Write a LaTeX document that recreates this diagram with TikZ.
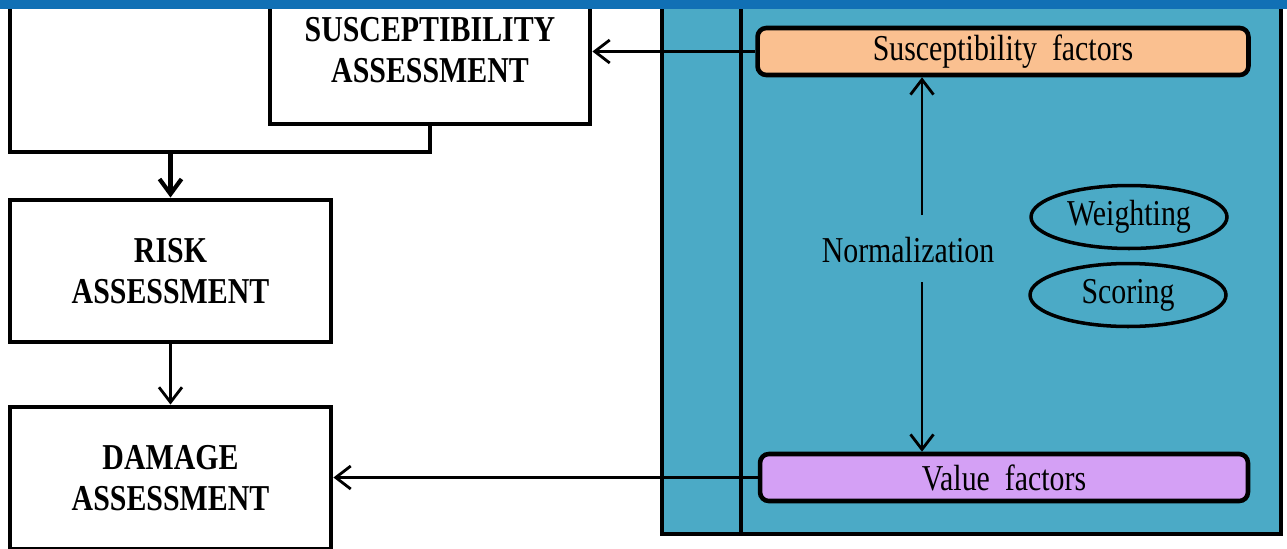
\documentclass[tikz,border=0pt]{standalone}
\usepackage{fontspec}
\setmainfont{Liberation Serif}
\usetikzlibrary{shapes,arrows.meta,positioning,calc}
\definecolor{bandblue}{RGB}{17,112,181}
\definecolor{panelblue}{RGB}{75,170,198}
\definecolor{peach}{RGB}{250,192,144}
\definecolor{lilac}{RGB}{212,160,245}
\newcommand{\tallline}[1]{\scalebox{1}[1.22]{#1}}

\begin{document}
\begin{tikzpicture}[
    x=0.02cm, y=-0.02cm,
    every node/.style={align=center},
    stage/.style={rectangle, draw=black, line width=2.8pt, fill=white, minimum width=6.42cm, minimum height=2.84cm, inner sep=0pt, font=\fontsize{17}{23}\selectfont\bfseries},
    panel/.style={rectangle, draw=black, line width=2.4pt, fill=panelblue, minimum width=12.38cm, minimum height=10.9cm, inner sep=0pt},
    factor/.style={rectangle, rounded corners=5pt, draw=black, line width=2.6pt, minimum height=0.94cm, inner sep=0pt, font=\fontsize{17}{20}\selectfont},
    method/.style={ellipse, draw=black, line width=2pt, minimum width=3.92cm, minimum height=1.26cm, inner sep=0pt, font=\fontsize{17}{20}\selectfont},
    link/.style={line width=2pt},
    arrow/.style={line width=1.6pt, -{Straight Barb[length=0.3cm, width=0.46cm]}},
    bigarrow/.style={line width=2.4pt, -{Straight Barb[length=0.3cm, width=0.44cm]}}
]
\useasboundingbox (0,0) rectangle (1287,548);

% Factor panel
\node[panel] (panel) at (971.5,261.5) {};
\coordinate (splittop) at (741,-10);
\coordinate (splitbot) at (741,532);
\draw[link] (splittop) -- (splitbot);

\node[factor, fill=peach, minimum width=9.82cm] (sfac) at (1003,51.5) {\tallline{Susceptibility\ \ factors}};
\node[factor, fill=lilac, minimum width=9.76cm] (vfac) at (1004,477.5) {\tallline{Value\ \ factors}};

\node[font=\fontsize{17}{20}\selectfont] (norm) at (908,250) {\tallline{Normalization}};
\node[method] (weight) at (1129,217) {\tallline{Weighting}};
\node[method] (score) at (1128,295) {\tallline{Scoring}};

% Assessment stages
\node[stage, minimum width=6.4cm, minimum height=2.96cm] (susc) at (430,50) {\tallline{SUSCEPTIBILITY}\\\tallline{ASSESSMENT}};
\node[stage] (risk) at (170.5,271) {\tallline{RISK}\\\tallline{ASSESSMENT}};
\node[stage] (damage) at (170.5,478) {\tallline{DAMAGE}\\\tallline{ASSESSMENT}};

% Feedback bracket
\coordinate (topleft) at (10,-10);
\coordinate (bend) at (430,152);
\draw[link] (topleft) |- (bend) -- (susc.south);

% Connections
\draw[bigarrow] (risk.north |- bend) -- (risk.north);
\draw[arrow] (risk) -- (damage);
\draw[arrow] (sfac.west) -- (susc.east |- sfac.west);
\draw[arrow] (vfac.west) -- (damage.east |- vfac.west);

\coordinate (nup) at (922,215);
\coordinate (ndown) at (922,282);
\draw[arrow] (nup) -- (nup |- sfac.south);
\draw[arrow] (ndown) -- (ndown |- vfac.north);

% Top band
\fill[bandblue] (0,-12) rectangle (1287,8.5);

\end{tikzpicture}
\end{document}
